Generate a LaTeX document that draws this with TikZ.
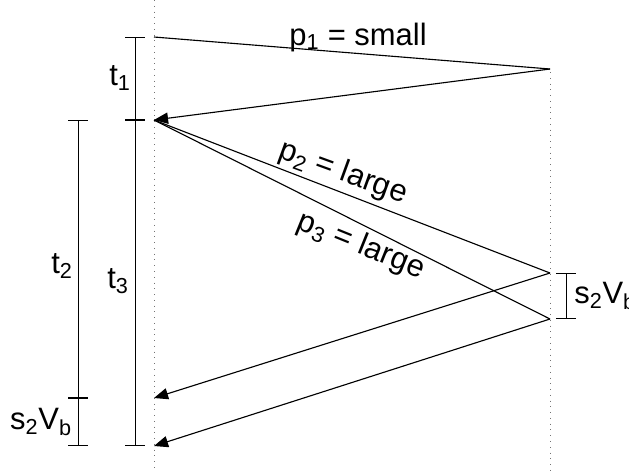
\documentclass[tikz,border=0pt]{standalone}
\usepackage{fontspec}
\setmainfont{Liberation Sans}
\usetikzlibrary{arrows.meta}
\tikzset{
  ray/.style={line width=0.8pt},
  msg/.style={line width=0.8pt, -{Triangle[length=10pt,width=8pt]}},
  span/.style={line width=0.7pt, {Bar[width=14pt]}-{Bar[width=14pt]}},
  axis/.style={black!55, line width=0.5pt, dash pattern=on 0.6pt off 3.5pt},
  lbl/.style={font=\fontsize{22}{26}\selectfont, inner sep=0pt},
}
\begin{document}
\begin{tikzpicture}[x=0.025cm, y=-0.025cm]
    \useasboundingbox (0,0) rectangle (629,470);

    % sender and receiver time lines
    \coordinate (st) at (154,0);   \coordinate (sb) at (154,470);
    \coordinate (rt) at (550,72);  \coordinate (rb) at (550,470);
    \draw[axis] (st) -- (sb);
    \draw[axis] (rt) -- (rb);

    % events
    \coordinate (a) at (154,37);
    \coordinate (b) at (550,69);
    \coordinate (c) at (154,120);
    \coordinate (d) at (550,273);
    \coordinate (e) at (550,319);
    \coordinate (f) at (154,398);
    \coordinate (g) at (154,446);

    % probes and echoes
    \draw[ray] (a) -- (b);
    \draw[msg] (b) -- (c);
    \draw[ray] (c) -- (d);
    \draw[ray] (c) -- (e);
    \draw[msg] (d) -- (f);
    \draw[msg] (e) -- (g);

    % intervals
    \coordinate (t1a) at (135,37);  \coordinate (t1b) at (135,120);
    \coordinate (t3b) at (135,446);
    \coordinate (t2a) at (78,120);  \coordinate (t2b) at (78,398);
    \coordinate (t2c) at (78,446);
    \coordinate (dva) at (566,273); \coordinate (dvb) at (566,319);
    \draw[span] (t1a) -- (t1b);
    \draw[span] (t1b) -- (t3b);
    \draw[span] (t2a) -- (t2b);
    \draw[span] (t2b) -- (t2c);
    \draw[span] (dva) -- (dvb);

    % labels
    \node[lbl] (t1) at (120,78) {t\textsubscript{1}};
    \node[lbl] (t2) at (62,266) {t\textsubscript{2}};
    \node[lbl] (t3) at (118,281) {t\textsubscript{3}};
    \node[lbl] (dvl) at (41,422) {s\textsubscript{2}V\textsubscript{b}};
    \node[lbl, anchor=west] (dvr) at (574,296) {s\textsubscript{2}V\textsubscript{b}};
    \node[lbl] (p1) at (358,37) {p\textsubscript{1} = small};
    \node[lbl, rotate=-20] (p2) at (343,173) {p\textsubscript{2} = large};
    \node[lbl, rotate=-22] (p3) at (361,246) {p\textsubscript{3} = large};
\end{tikzpicture}
\end{document}
